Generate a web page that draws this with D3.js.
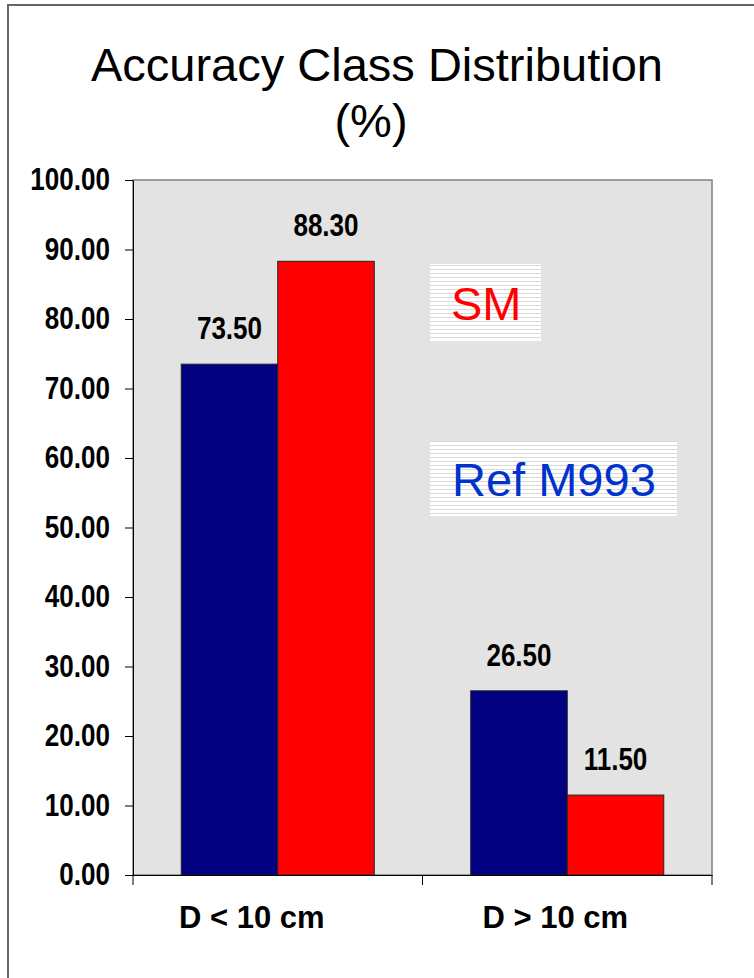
<!DOCTYPE html>
<html lang="en">
<head>
<meta charset="utf-8">
<script src="https://d3js.org/d3.v7.min.js"></script>
<style>
  html, body { margin: 0; padding: 0; background: #ffffff; }
  svg { display: block; }
  .narrow { font-family: "Liberation Sans", Arial, sans-serif; font-weight: bold; }
  .plain { font-family: "Liberation Sans", Arial, sans-serif; }
</style>
</head>
<body>
<script>
// chart data
var categories = ["D < 10 cm", "D > 10 cm"];
var seriesNames = ["Ref M993", "SM"];
var refValues = [73.5, 26.5];
var smValues = [88.3, 11.5];
var yTicks = [0, 10, 20, 30, 40, 50, 60, 70, 80, 90, 100];
var seriesColors = ["#000080", "#ff0000"];
var legendColors = {"SM": "#ff0000", "Ref M993": "#0033cc"};

var width = 754, height = 978;
var plot = {left: 133, top: 180, right: 712, bottom: 875};
var squeeze = 0.84; // no narrow font installed, so condense bold text

var svg = d3.select("body").append("svg")
    .attr("width", width)
    .attr("height", height);

// squash text horizontally to mimic Arial Narrow Bold
function condense(sel) {
    sel.each(function() {
        var w = this.getComputedTextLength();
        d3.select(this)
            .attr("textLength", w * squeeze)
            .attr("lengthAdjust", "spacingAndGlyphs");
    });
}

// striped legend fill
var defs = svg.append("defs");
var pat = defs.append("pattern")
    .attr("id", "stripes")
    .attr("patternUnits", "userSpaceOnUse")
    .attr("width", 8)
    .attr("height", 4);
pat.append("rect").attr("width", 8).attr("height", 4).attr("fill", "#ffffff");
pat.append("rect").attr("y", 1).attr("width", 8).attr("height", 1).attr("fill", "#d9d9d9");

// outer frame (right/bottom edges run off the page)
svg.append("rect")
    .attr("x", 8).attr("y", 5)
    .attr("width", 800).attr("height", 1000)
    .attr("fill", "none")
    .attr("stroke", "#666")
    .attr("stroke-width", 2);

// title
svg.append("text")
    .attr("class", "plain")
    .attr("x", 377).attr("y", 81)
    .attr("text-anchor", "middle")
    .style("font-size", "47px")
    .text("Accuracy Class Distribution");
svg.append("text")
    .attr("class", "plain")
    .attr("x", 371).attr("y", 137)
    .attr("text-anchor", "middle")
    .style("font-size", "47px")
    .text("(%)");

// scales
var x0 = d3.scaleBand()
    .domain(categories)
    .range([plot.left, plot.right])
    .padding(0);
var x1 = d3.scaleBand()
    .domain(seriesNames)
    .range([0, x0.bandwidth()])
    .paddingInner(0)
    .paddingOuter(0.5);
var y = d3.scaleLinear()
    .domain([0, 100])
    .range([plot.bottom, plot.top]);

// plot background
svg.append("rect")
    .attr("x", plot.left).attr("y", plot.top)
    .attr("width", plot.right - plot.left)
    .attr("height", plot.bottom - plot.top)
    .attr("fill", "#e3e3e3")
    .attr("stroke", "#808080")
    .attr("stroke-width", 1.5);

var rows = categories.map(function(c, i) {
    return {cat: c, values: [refValues[i], smValues[i]]};
});

var groups = svg.selectAll(".grp")
    .data(rows)
    .enter().append("g")
    .attr("class", "grp")
    .attr("transform", function(d) { return "translate(" + x0(d.cat) + ",0)"; });

groups.selectAll("rect")
    .data(function(d) { return d.values.map(function(v, j) { return {name: seriesNames[j], value: v, idx: j}; }); })
    .enter().append("rect")
    .attr("x", function(d) { return x1(d.name); })
    .attr("y", function(d) { return y(d.value); })
    .attr("width", x1.bandwidth())
    .attr("height", function(d) { return y(0) - y(d.value); })
    .attr("fill", function(d) { return seriesColors[d.idx]; })
    .attr("stroke", "#222")
    .attr("stroke-width", 1);

groups.selectAll("text.val")
    .data(function(d) { return d.values.map(function(v, j) { return {name: seriesNames[j], value: v}; }); })
    .enter().append("text")
    .attr("class", "val narrow")
    .attr("x", function(d) { return x1(d.name) + x1.bandwidth() / 2; })
    .attr("y", function(d) { return y(d.value) - 25; })
    .attr("text-anchor", "middle")
    .style("font-size", "31px")
    .text(function(d) { return d3.format(".2f")(d.value); })
    .call(condense);

// y axis
var yAxis = svg.append("g")
    .attr("transform", "translate(" + plot.left + ",0)")
    .call(d3.axisLeft(y).tickValues(yTicks).tickFormat(d3.format(".2f"))
        .tickSize(8).tickSizeOuter(0).tickPadding(15));
yAxis.select(".domain").attr("stroke", "#000");
yAxis.selectAll("text")
    .attr("class", "narrow")
    .style("font-size", "31px")
    .attr("fill", "#000")
    .call(condense);

// x axis
var labelShift = [-26, -12];
var xAxis = svg.append("g")
    .attr("transform", "translate(0," + plot.bottom + ")")
    .call(d3.axisBottom(x0).tickSize(0).tickSizeOuter(0));
xAxis.select(".domain").attr("stroke", "#000");
xAxis.selectAll("text")
    .attr("class", "plain")
    .attr("y", 53).attr("dy", 0)
    .attr("dx", function(d, i) { return labelShift[i]; })
    .style("font-size", "31px")
    .style("font-weight", "bold")
    .attr("fill", "#000");

// category boundary ticks
var bounds = categories.map(function(c) { return x0(c); }).concat([x0(categories[categories.length - 1]) + x0.bandwidth()]);
xAxis.selectAll("line.bound")
    .data(bounds)
    .enter().append("line")
    .attr("class", "bound")
    .attr("x1", function(d) { return d; })
    .attr("x2", function(d) { return d; })
    .attr("y1", 0).attr("y2", 10)
    .attr("stroke", "#000");

// legend boxes
var legendBoxes = [
    {name: "SM", x: 430, y: 264, w: 111, h: 77, tx: 451, ty: 320},
    {name: "Ref M993", x: 430, y: 441, w: 247, h: 75, tx: 452, ty: 496}
];
var lg = svg.selectAll(".lg")
    .data(legendBoxes)
    .enter().append("g")
    .attr("class", "lg");
lg.append("rect")
    .attr("x", function(d) { return d.x; })
    .attr("y", function(d) { return d.y; })
    .attr("width", function(d) { return d.w; })
    .attr("height", function(d) { return d.h; })
    .attr("fill", "url(#stripes)");
lg.append("text")
    .attr("class", "plain")
    .attr("x", function(d) { return d.tx; })
    .attr("y", function(d) { return d.ty; })
    .style("font-size", "47px")
    .attr("fill", function(d) { return legendColors[d.name]; })
    .text(function(d) { return d.name; });
</script>
</body>
</html>
